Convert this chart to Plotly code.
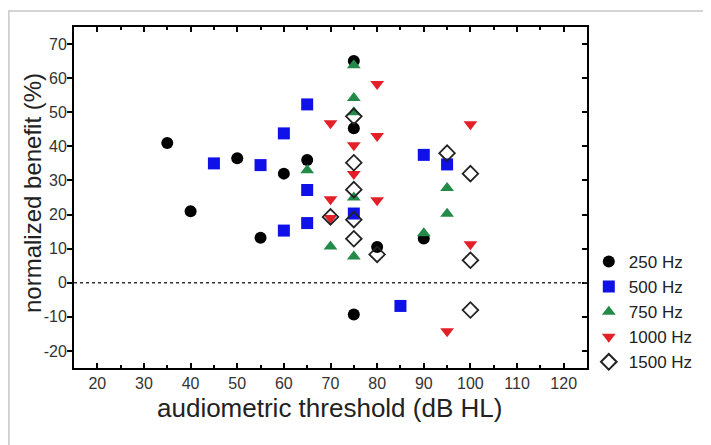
import plotly.graph_objects as go

# ---- data ----
x_250 = [35, 40, 50, 55, 60, 65, 75, 75, 75, 80, 90]
y_250 = [41, 21, 36.5, 13.2, 32, 36, 65, 45.3, -9.3, 10.5, 13]

x_500 = [45, 55, 60, 60, 65, 65, 65, 75, 85, 90, 95]
y_500 = [35, 34.5, 43.8, 15.3, 52.3, 27.2, 17.5, 20.3, -6.8, 37.5, 34.7]

x_750 = [65, 70, 75, 75, 75, 75, 75, 90, 95, 95]
y_750 = [33, 10.6, 63.8, 54.2, 50, 25, 7.7, 14.5, 27.8, 20.2]

x_1000 = [70, 70, 70, 75, 75, 80, 80, 80, 95, 100, 100]
y_1000 = [46.8, 24.5, 19, 40.3, 31.9, 58.3, 43, 24.2, -14.2, 46.5, 11.3]

x_1500 = [70, 75, 75, 75, 75, 75, 80, 95, 100, 100, 100]
y_1500 = [19.3, 48.8, 35.2, 27.3, 18.5, 12.9, 8.3, 38, 32, 6.6, -8]

x_ticks = [20, 30, 40, 50, 60, 70, 80, 90, 100, 110, 120]
y_ticks = [-20, -10, 0, 10, 20, 30, 40, 50, 60, 70]
y_tick_labels = ["-20", "-10", "0", "10", "20", "30", "40", "50", "60", "70"]

series = [
    ("250 Hz", x_250, y_250, dict(symbol="circle", size=12, color="#000000")),
    ("500 Hz", x_500, y_500, dict(symbol="square", size=12, color="#1010e8")),
    ("750 Hz", x_750, y_750, dict(symbol="triangle-up", size=12, color="#238a48")),
    ("1000 Hz", x_1000, y_1000, dict(symbol="triangle-down", size=12, color="#e32028")),
    ("1500 Hz", x_1500, y_1500, dict(symbol="diamond-open", size=12, color="#222222",
                                      line=dict(width=1.8, color="#222222"))),
]

fig = go.Figure()
for name, xs, ys, mk in series:
    fig.add_trace(go.Scatter(x=xs, y=ys, mode="markers", name=name, marker=mk))

# dummy trace for right-hand axis with inward ticks
fig.add_trace(go.Scatter(x=[], y=[], yaxis="y2", showlegend=False, hoverinfo="skip"))

FONT = "Liberation Sans, Arial, sans-serif"

fig.update_layout(
    width=703, height=437,
    paper_bgcolor="white", plot_bgcolor="white",
    margin=dict(l=66, r=124, t=19, b=77, autoexpand=False),
    font=dict(family=FONT, color="#222222"),
    showlegend=True,
    legend=dict(x=1.0035, y=0.364, xanchor="left", yanchor="top",
                font=dict(size=17, color="#222222"), bgcolor="rgba(0,0,0,0)",
                itemsizing="constant"),
    xaxis=dict(
        range=[15, 125], tickvals=x_ticks, ticks="inside", ticklen=5, tickwidth=2,
        tickcolor="black", showline=True, linewidth=2, linecolor="black",
        mirror="ticks", showgrid=False, zeroline=False, automargin=False,
        minor=dict(dtick=5, tick0=15, ticks="inside", ticklen=3, tickwidth=2, tickcolor="black"),
        tickfont=dict(size=16, color="#333333"),
    ),
    yaxis=dict(
        range=[-25, 75], tickvals=y_ticks, ticktext=y_tick_labels, ticks="outside",
        ticklen=5, tickwidth=2, ticklabelstandoff=-3,
        tickcolor="black", showline=True, linewidth=2, linecolor="black",
        mirror=True, showgrid=False, zeroline=False, automargin=False,
        tickfont=dict(size=16, color="#333333"),
    ),
    yaxis2=dict(
        range=[-25, 75], tickvals=y_ticks, overlaying="y", side="right", ticks="inside",
        ticklen=5, tickwidth=2, tickcolor="black", showticklabels=False, showline=False,
        showgrid=False, zeroline=False, automargin=False,
    ),
    annotations=[
        dict(text="audiometric threshold (dB HL)", xref="paper", yref="paper",
             x=0.499, y=-0.117, xanchor="center", yanchor="middle", showarrow=False,
             font=dict(size=26, color="#222222")),
        dict(text="normalized benefit (%)", xref="paper", yref="paper",
             x=-0.082, y=0.513, xanchor="center", yanchor="middle", showarrow=False,
             textangle=-90, font=dict(size=24, color="#222222")),
    ],
    shapes=[
        dict(type="line", xref="paper", yref="y", x0=0, x1=1, y0=0, y1=0,
             line=dict(color="#333333", width=1.5, dash="dot")),
        dict(type="rect", xref="paper", yref="paper", x0=-0.127, x1=1.3, y0=-0.4, y1=1.047,
             line=dict(color="#c8c8c8", width=1.5), layer="below"),
    ],
)

fig.write_html("out.html")
